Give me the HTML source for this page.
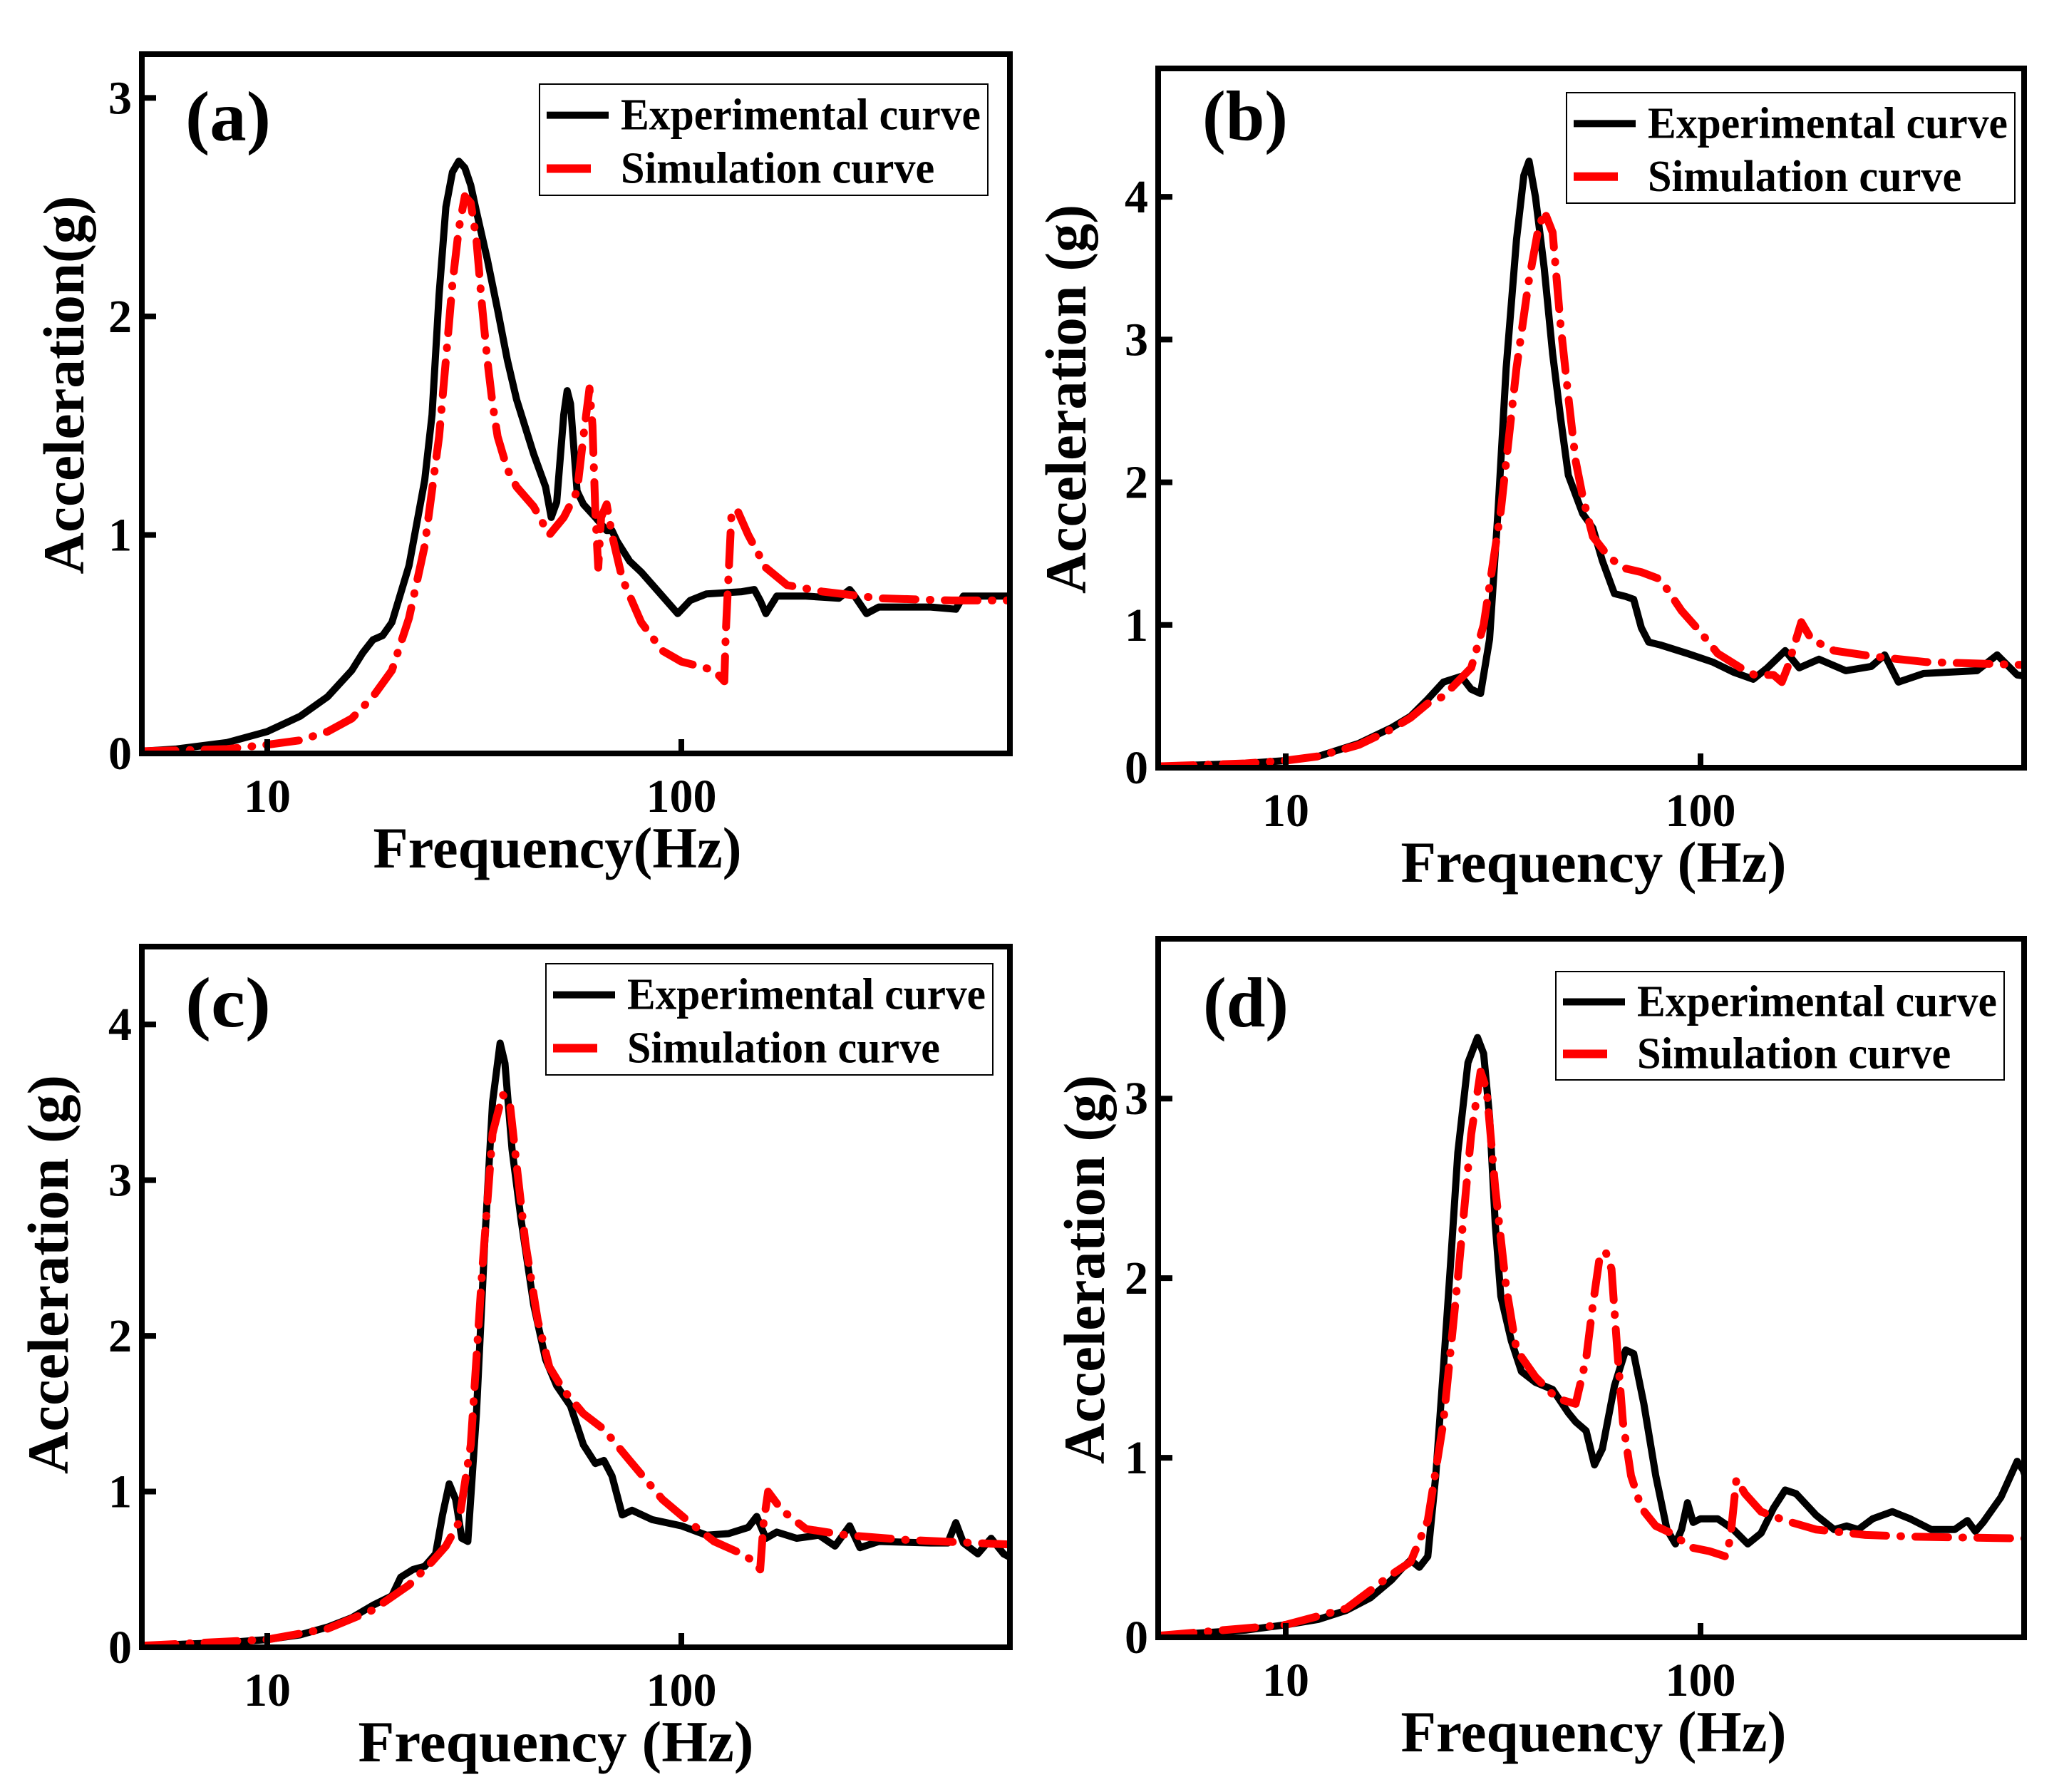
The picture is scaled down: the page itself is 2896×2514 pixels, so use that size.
<!DOCTYPE html>
<html><head><meta charset="utf-8">
<style>
html,body{margin:0;padding:0;background:#fff;}
svg{display:block;font-family:"Liberation Serif",serif;font-weight:bold;}
</style></head>
<body>
<svg id="fig" xmlns="http://www.w3.org/2000/svg" width="2896" height="2514" viewBox="0 0 2896 2514"></svg>
<script>
// ---- data (frequency in Hz, acceleration in g) ----
const aExpF=[5,6,8,10,12,14,16,17,18,19,20,22,24,25,26,27,28,29,30,31,32,34,36,38,40,44,47,48.5,50,52,53,54,56,58,62,66,68,70,75,80,90,98,105,115,140,150,155,160,170,200,240,255,260,280,300,400,460,480,620];
const aExpV=[.01,.02,.05,.1,.17,.26,.38,.46,.52,.54,.6,.86,1.25,1.55,2.1,2.5,2.66,2.71,2.68,2.6,2.48,2.26,2.03,1.8,1.62,1.37,1.22,1.08,1.15,1.55,1.66,1.6,1.2,1.14,1.08,1.02,1.02,.97,.88,.83,.72,.64,.7,.73,.74,.75,.7,.64,.72,.72,.71,.75,.73,.64,.67,.67,.66,.72,.72];
const aSimF=[5,8,10,12,14,16,18,20,22,24,26,27,28,29,30,31,32,33,34,35,36,38,40,44,48,52,56,58,60,61,62,63,64,66,68,72,80,90,100,110,120,127,128,132,136,145,160,180,220,300,450,620];
const aSimV=[.01,.02,.04,.06,.1,.16,.26,.38,.62,.95,1.45,1.8,2.15,2.4,2.55,2.52,2.35,2.05,1.8,1.6,1.45,1.3,1.22,1.13,1.0,1.08,1.2,1.45,1.67,1.5,1.1,.85,1.08,1.14,1.0,.8,.6,.47,.42,.4,.38,.33,.55,1.08,1.12,1.0,.85,.77,.74,.71,.7,.7];

const bExpF=[5,8,10,12,15,18,20,22,24,26.5,28,29.5,31,32.5,34,36,37.5,38.6,40,42,44,46,48,52,55,58,62,66,69,72,75,80,93,107,120,134,145,160,173,193,224,258,278,300,345,464,519,580,611];
const bExpV=[.01,.03,.05,.08,.17,.28,.36,.48,.6,.64,.55,.52,.9,1.8,2.8,3.7,4.15,4.25,4.0,3.5,2.9,2.45,2.05,1.78,1.68,1.45,1.22,1.2,1.18,.98,.88,.86,.8,.74,.67,.62,.7,.82,.7,.76,.68,.71,.79,.6,.66,.68,.79,.65,.64];
const bSimF=[5,8,10,12,15,18,20,22,24,28,30,33,36,38.5,40.5,42,44,46,48,50,52,55,60,65,72,80,90,100,110,125,135,150,157,162,168,175,185,210,260,350,611];
const bSimV=[.01,.03,.05,.08,.16,.27,.35,.45,.5,.7,1.0,1.8,2.8,3.4,3.75,3.9,3.75,3.1,2.6,2.15,1.9,1.62,1.48,1.4,1.37,1.32,1.1,.95,.8,.7,.65,.65,.6,.7,.85,1.02,.9,.82,.78,.74,.72];

const cExpF=[5,8,10,12,14,16,18,20,21,22.5,24,25.5,26.5,27.5,28.5,29.5,30.5,32,33.5,35,36.5,37.5,39,41,44,47,50,54,58,62,65,68,72,76,85,100,115,130,145,152,160,170,190,215,235,255,270,300,400,440,460,480,520,560,600,620];
const cExpV=[.01,.03,.05,.08,.13,.19,.27,.33,.45,.5,.52,.6,.85,1.05,.95,.7,.68,1.5,2.6,3.5,3.88,3.75,3.2,2.75,2.2,1.85,1.68,1.55,1.3,1.18,1.2,1.1,.85,.88,.82,.78,.72,.73,.77,.84,.7,.74,.7,.72,.65,.78,.64,.68,.67,.67,.8,.67,.6,.7,.6,.58];
const cSimF=[5,10,14,18,22,25,27,29,31,33,35,37,38.5,40,42,45,48,52,58,65,75,90,105,120,140,150,155,158,162,175,200,250,350,620];
const cSimV=[.01,.05,.12,.24,.4,.55,.65,.8,1.3,2.4,3.3,3.55,3.5,3.1,2.6,2.1,1.8,1.65,1.5,1.4,1.2,.95,.8,.68,.6,.55,.5,.8,1.0,.88,.76,.72,.69,.66];

const dExpF=[5,8,10,12,14,16,18,19,20,21,22,23,24,25,26,27.5,29,30,31,32,33,35,37,40,44,48,50,53,55.5,58,62,66,69,73,78,83,87,90,93,96,100,110,120,130,140,150,160,170,190,210,225,240,260,290,320,360,410,440,460,480,530,580,600,610];
const dExpV=[.01,.04,.07,.1,.15,.22,.32,.38,.43,.39,.45,.9,1.5,2.1,2.7,3.2,3.34,3.25,2.9,2.3,1.9,1.65,1.48,1.42,1.38,1.25,1.2,1.15,.96,1.05,1.4,1.6,1.58,1.3,.9,.6,.52,.6,.75,.64,.66,.66,.6,.52,.58,.72,.82,.8,.68,.6,.62,.6,.66,.7,.66,.6,.6,.65,.59,.64,.78,.98,.93,.88];
const dSimF=[5,10,14,18,20,22,24,26,28,29.5,30.5,32,34,36,40,45,50,53,55,57,59,61,63,65,68,72,78,85,95,105,115,118,122,128,140,160,190,250,330,610];
const dSimV=[.01,.07,.16,.35,.42,.65,1.2,2.0,2.8,3.15,3.05,2.5,1.95,1.6,1.45,1.33,1.3,1.55,1.85,2.1,2.15,2.05,1.6,1.2,.9,.72,.62,.58,.5,.48,.45,.55,.88,.8,.7,.65,.6,.57,.56,.55];

const yTicksA=[0,1,2,3];
const yTicksB=[0,1,2,3,4];
const yTicksC=[0,1,2,3,4];
const yTicksD=[0,1,2,3];
const xTickVals=[10,100];
const xTickLabels=["10","100"];

// ---- layout ----
const NS="http://www.w3.org/2000/svg";
const svg=document.getElementById('fig');
function el(tag,attrs,parent){const e=document.createElementNS(NS,tag);for(const k in attrs)e.setAttribute(k,attrs[k]);(parent||svg).appendChild(e);return e;}

const panels=[
 {id:'a',L:199,R:1417,T:76,B:1057,ymax:3.2,x10:375,dec:581,yt:yTicksA,ef:aExpF,ev:aExpV,sf:aSimF,sv:aSimV,
  lg:[757,118,1386,274],lab:[260,197],xt:[782,'Frequency(Hz)',517],ytl:[89,540,'Acceleration(g)',531]},
 {id:'b',L:1625,R:2840,T:96,B:1077,ymax:4.9,x10:1804,dec:582,yt:yTicksB,ef:bExpF,ev:bExpV,sf:bSimF,sv:bSimV,
  lg:[2198,130,2827,285],lab:[1687,196],xt:[2236,'Frequency (Hz)',541],ytl:[1495,560,'Acceleration (g)',546]},
 {id:'c',L:199,R:1417,T:1328,B:2311,ymax:4.5,x10:375,dec:581,yt:yTicksC,ef:cExpF,ev:cExpV,sf:cSimF,sv:cSimV,
  lg:[766,1352,1393,1508],lab:[260,1440],xt:[780,'Frequency (Hz)',555],ytl:[67,1788,'Acceleration (g)',560]},
 {id:'d',L:1625,R:2840,T:1317,B:2297,ymax:3.89,x10:1804,dec:582,yt:yTicksD,ef:dExpF,ev:dExpV,sf:dSimF,sv:dSimV,
  lg:[2183,1363,2812,1515],lab:[1688,1440],xt:[2236,'Frequency (Hz)',541],ytl:[1521,1781,'Acceleration (g)',546]}
];

panels.forEach(p=>{
  const g=el('g',{});
  
  
  const sx=f=>p.x10+p.dec*Math.log10(f/10);
  const sy=v=>p.B-(p.B-p.T)*v/p.ymax;
  const clip=el('clipPath',{id:'clip'+p.id},g);
  el('rect',{x:p.L,y:p.T,width:p.R-p.L,height:p.B-p.T},clip);

  const pts=(F,V)=>F.map((f,i)=>sx(f).toFixed(1)+','+sy(V[i]).toFixed(1)).join(' ');
  const exp=el('polyline',{points:pts(p.ef,p.ev),fill:'none',stroke:'#000','stroke-width':10,'stroke-linejoin':'round','stroke-linecap':'round','clip-path':'url(#clip'+p.id+')'},g);
  
  
  const sim=el('polyline',{points:pts(p.sf,p.sv),fill:'none',stroke:'#ff0000','stroke-width':11,'stroke-linejoin':'round','stroke-linecap':'round','stroke-dasharray':'46 20 1 20','clip-path':'url(#clip'+p.id+')'},g);
  
  

  const fr=el('rect',{x:p.L,y:p.T,width:p.R-p.L,height:p.B-p.T,fill:'none',stroke:'#000','stroke-width':8},g);
  
  

  p.yt.forEach(v=>{
    const y=sy(v);
    const t=el('line',{x1:p.L,x2:p.L+20,y1:y,y2:y,stroke:'#000','stroke-width':8},g);
    
    
    const tl=el('text',{x:p.L-14,y:y+22,'text-anchor':'end','font-size':66},g);
    tl.textContent=String(v);
    
    
  });
  xTickVals.forEach((f,i)=>{
    const x=sx(f);
    const t=el('line',{x1:x,x2:x,y1:p.B,y2:p.B-20,stroke:'#000','stroke-width':8},g);
    
    
    const tl=el('text',{x:x,y:p.B+82,'text-anchor':'middle','font-size':66},g);
    tl.textContent=xTickLabels[i];
    
    
  });
  const xt=el('text',{x:p.xt[0],y:p.B+160,'text-anchor':'middle','font-size':82,textLength:p.xt[2],lengthAdjust:'spacingAndGlyphs'},g);
  xt.textContent=p.xt[1];
  
  
  const yt=el('text',{x:0,y:0,'text-anchor':'middle','font-size':82,textLength:p.ytl[3],lengthAdjust:'spacingAndGlyphs',transform:'translate('+(p.ytl[0]+28)+','+p.ytl[1]+') rotate(-90)'},g);
  yt.textContent=p.ytl[2];
  
  

  const pl=el('text',{x:p.lab[0],y:p.lab[1],'font-size':100,textLength:120,lengthAdjust:'spacingAndGlyphs'},g);
  pl.textContent='('+p.id+')';
  
  

  const [lx1,ly1,lx2,ly2]=p.lg;
  const lg=el('g',{},g);
  
  
  el('rect',{x:lx1,y:ly1,width:lx2-lx1,height:ly2-ly1,fill:'#fff',stroke:'#000','stroke-width':2},lg);
  const r1=ly1+(ly2-ly1)*0.28, r2=ly1+(ly2-ly1)*0.76;
  const s1=el('line',{x1:lx1+10,x2:lx1+97,y1:r1,y2:r1,stroke:'#000','stroke-width':10},lg);
  
  
  const t1=el('text',{x:lx1+114,y:r1+20,'font-size':62,textLength:(lx2-lx1)-124,lengthAdjust:'spacingAndGlyphs'},lg);
  t1.textContent='Experimental curve';
  
  
  const s2=el('line',{x1:lx1+10,x2:lx1+72,y1:r2,y2:r2,stroke:'#ff0000','stroke-width':12},lg);
  
  
  const t2=el('text',{x:lx1+114,y:r2+20,'font-size':62,textLength:(lx2-lx1)*0.70,lengthAdjust:'spacingAndGlyphs'},lg);
  t2.textContent='Simulation curve';
  
  
});
</script>
</body></html>
